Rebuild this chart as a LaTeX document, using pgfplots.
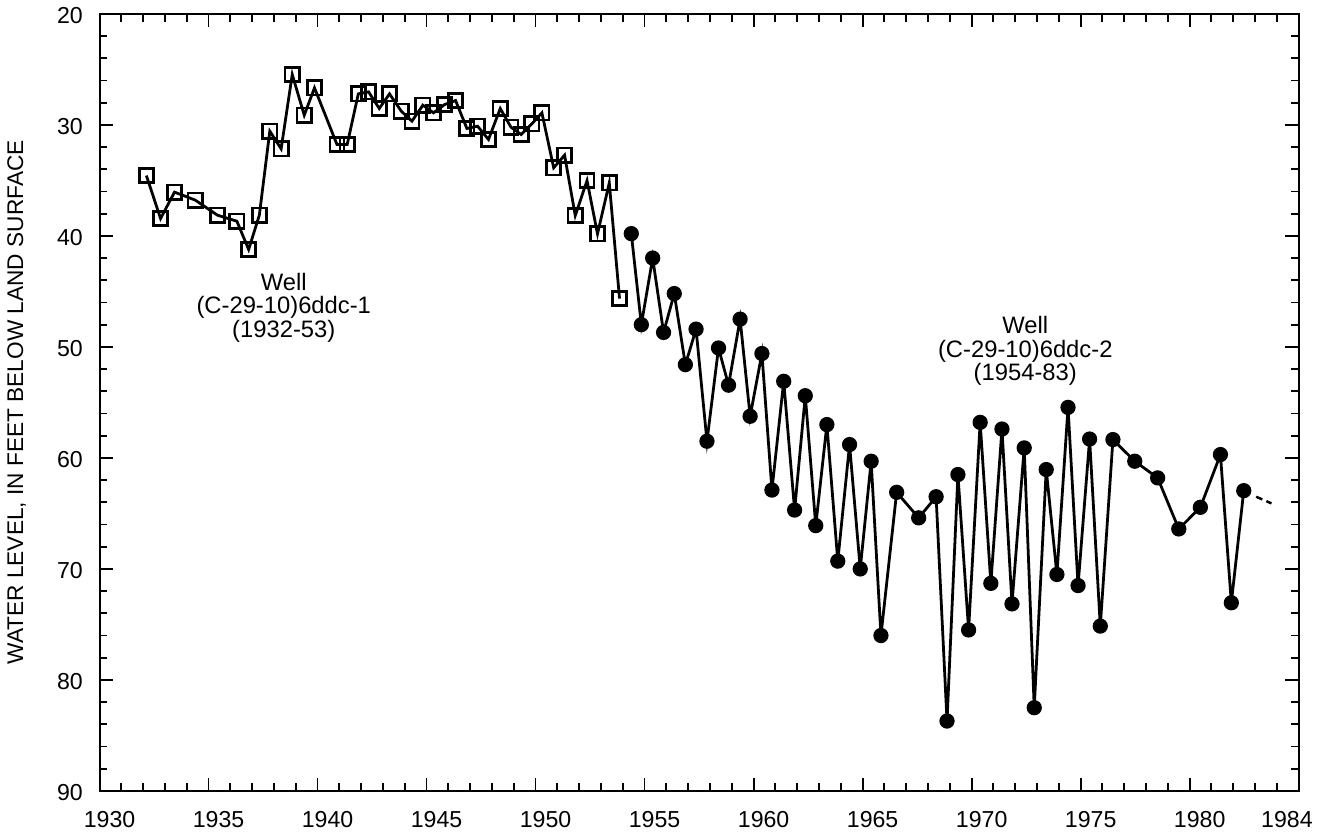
\documentclass[border=0pt]{standalone}
\usepackage{fontspec}
\setmainfont{Liberation Sans}
\usepackage{pgfplots}
\pgfplotsset{compat=1.18}
\begin{document}
\begin{tikzpicture}
\begin{axis}[
  scale only axis, width=539.6pt, height=349.7pt,
  xmin=1930, xmax=1985, ymin=20, ymax=90, y dir=reverse,
  xtick={1930,1935,...,1980},
  extra x ticks={1984},
  extra x tick style={major tick length=3.5pt},
  minor xtick={1930,...,1985},
  ytick={20,30,...,90},
  minor ytick={20,22,...,90},
  /pgf/number format/1000 sep={},
  /pgf/number format/assume math mode=true,
  tick label style={font=\fontsize{10.4}{12}\selectfont, black},
  x tick label style={xshift=4.5pt, yshift=-5.5pt},
  y tick label style={xshift=-4pt, yshift=-0.8pt},
  tick align=inside,
  major tick length=6pt, minor tick length=3.5pt,
  tick style={black, line width=0.8pt},
  axis line style={black, line width=0.9pt},
  ylabel={WATER LEVEL, IN FEET BELOW LAND SURFACE},
  ylabel style={at={(axis description cs:-0.069,0.5)}, anchor=center, font=\fontsize{10.2}{12}\selectfont},
  clip=false,
]
\addplot[black, line width=1.25pt, mark=square, mark size=3.2pt, mark options={solid, line width=1.2pt, fill=none}] coordinates {
(1932.15,34.57) (1932.80,38.44) (1933.44,36.06) (1934.39,36.78) (1935.41,38.14)
(1936.30,38.68) (1936.84,41.23) (1937.33,38.14) (1937.81,30.57) (1938.33,32.16)
(1938.84,25.47) (1939.39,29.13) (1939.86,26.67) (1940.89,31.77) (1941.36,31.77)
(1941.87,27.21) (1942.34,27.03) (1942.83,28.53) (1943.30,27.21) (1943.84,28.77)
(1944.33,29.67) (1944.83,28.23) (1945.32,28.92) (1945.83,28.17) (1946.33,27.81)
(1946.85,30.33) (1947.34,30.12) (1947.84,31.32) (1948.38,28.53) (1948.87,30.21)
(1949.34,30.87) (1949.83,29.91) (1950.29,28.92) (1950.83,33.87) (1951.33,32.73)
(1951.82,38.17) (1952.36,35.02) (1952.84,39.82) (1953.38,35.23) (1953.85,45.65)
};
\addplot[black, line width=1.25pt, mark=*, mark size=2.8pt, mark options={solid, fill=black}] coordinates {
(1954.39,39.8) (1954.85,48.0) (1955.37,42.0) (1955.87,48.7) (1956.36,45.2)
(1956.87,51.6) (1957.36,48.4) (1957.86,58.5) (1958.39,50.1) (1958.85,53.45)
(1959.38,47.5) (1959.84,56.25) (1960.38,50.6) (1960.84,62.9) (1961.38,53.1)
(1961.88,64.7) (1962.37,54.4) (1962.85,66.1) (1963.36,57.0) (1963.86,69.3)
(1964.40,58.8) (1964.89,70.0) (1965.39,60.3) (1965.84,76.0) (1966.56,63.1)
(1967.57,65.4) (1968.37,63.5) (1968.87,83.7) (1969.37,61.5) (1969.86,75.5)
(1970.39,56.8) (1970.88,71.3) (1971.39,57.4) (1971.85,73.15) (1972.41,59.1)
(1972.87,82.5) (1973.42,61.05) (1973.91,70.5) (1974.42,55.45) (1974.88,71.5)
(1975.41,58.3) (1975.90,75.15) (1976.48,58.35) (1977.48,60.3) (1978.53,61.8)
(1979.50,66.4) (1980.49,64.45) (1981.41,59.7) (1981.91,73.05) (1982.48,62.95)
};
\addplot[black, line width=1.1pt, dash pattern=on 3pt off 2pt] coordinates {(1983.05,63.5) (1983.75,64.1)};
\node[anchor=north, align=center, inner sep=0pt, font=\fontsize{10.7}{10.6}\selectfont] at (axis cs:1938.45,43.3) {Well\\(C-29-10)6ddc-1\\(1932-53)};
\node[anchor=north, align=center, inner sep=0pt, font=\fontsize{10.7}{10.6}\selectfont] at (axis cs:1972.46,47.2) {Well\\(C-29-10)6ddc-2\\(1954-83)};
\end{axis}
\end{tikzpicture}
\end{document}
